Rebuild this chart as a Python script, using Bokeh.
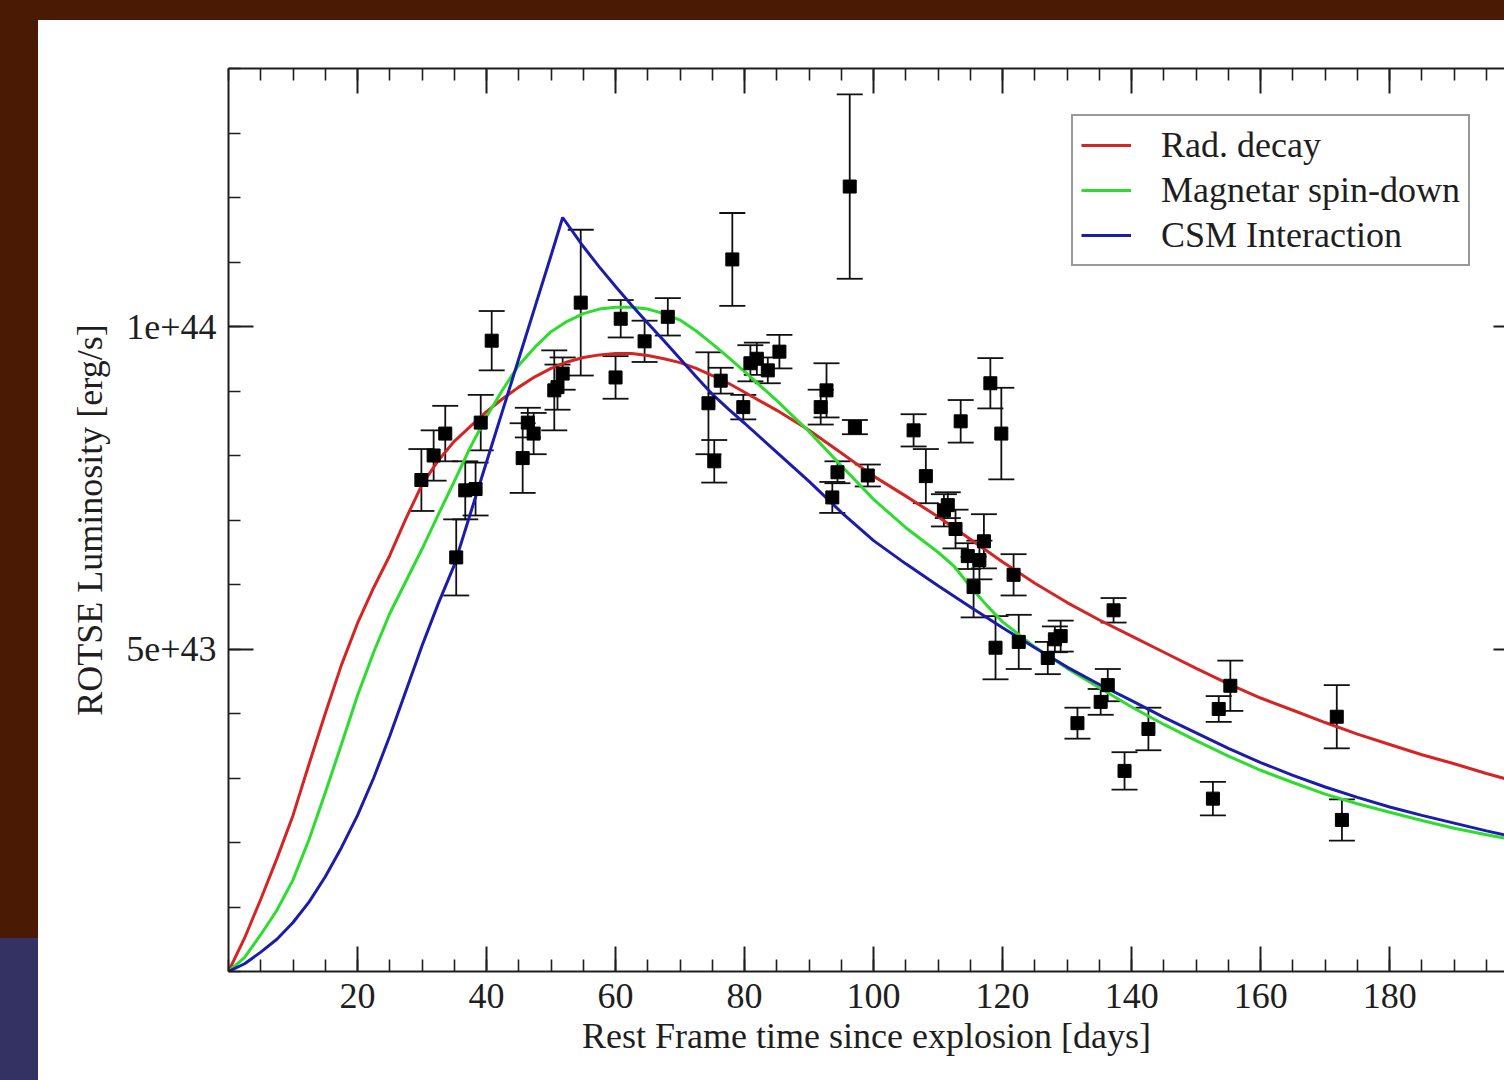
import numpy as np
from bokeh.plotting import figure
from bokeh.layouts import column, row
from bokeh.models import (ColumnDataSource, Whisker, TeeHead, FixedTicker, LinearAxis, Div,
                          CustomJSTickFormatter, Legend, LegendItem, Range1d)
from bokeh.embed import file_html
from bokeh.resources import INLINE

# ---------------- data (luminosity in units of 1e43 erg/s) ----------------
obs_t = [29.9, 31.8, 33.6, 35.3, 36.7, 38.3, 39.1, 40.8, 45.6, 46.4, 47.3, 50.5, 51.0, 51.8,
         54.6, 60.0, 60.8, 64.5, 68.1, 74.4, 75.3, 76.3, 78.1, 79.8, 80.9, 81.9, 83.6, 85.4,
         91.8, 92.7, 93.6, 94.4, 96.3, 97.1, 99.1, 106.2, 108.1, 110.9, 111.5, 112.7, 113.5,
         114.6, 115.5, 116.4, 117.1, 118.1, 119.8, 121.7, 118.9, 122.5, 127.0, 128.1, 129.0,
         131.6, 135.2, 136.3, 137.2, 138.9, 142.6, 152.6, 153.5, 155.3, 171.8, 172.6]
obs_lum = [7.62, 8.00, 8.34, 6.42, 7.46, 7.48, 8.51, 9.78, 7.96, 8.51, 8.34, 9.01, 9.06, 9.27,
           10.37, 9.21, 10.12, 9.77, 10.15, 8.81, 7.91, 9.16, 11.04, 8.75, 9.43, 9.50, 9.32, 9.61,
           8.75, 9.01, 7.35, 7.74, 12.17, 8.44, 7.69, 8.39, 7.68, 7.15, 7.23, 6.86, 8.53,
           6.44, 5.96, 6.38, 6.67, 9.12, 8.34, 6.15, 5.02, 5.11, 4.86, 5.15, 5.20,
           3.85, 4.18, 4.44, 5.60, 3.11, 3.76, 2.68, 4.07, 4.43, 3.95, 2.35]
obs_err = [0.48, 0.39, 0.43, 0.59, 0.45, 0.41, 0.43, 0.46, 0.54, 0.23, 0.32, 0.62, 0.35, 0.25,
           1.13, 0.33, 0.29, 0.32, 0.29, 0.79, 0.33, 0.20, 0.72, 0.19, 0.28, 0.25, 0.20, 0.26,
           0.27, 0.42, 0.24, 0.17, 1.43, 0.11, 0.17, 0.25, 0.42, 0.25, 0.20, 0.30, 0.33,
           0.20, 0.47, 0.30, 0.42, 0.39, 0.71, 0.32, 0.49, 0.42, 0.25, 0.20, 0.24,
           0.24, 0.20, 0.25, 0.19, 0.29, 0.33, 0.26, 0.20, 0.39, 0.49, 0.32]

rad_t = [0, 2.5, 5, 7.5, 10, 12.5, 15, 17.5, 20, 22.5, 25, 27.5, 30, 32.5, 35, 37.5, 40, 42.5,
         45, 47.5, 50, 52.5, 55, 57.5, 60, 62.5, 65, 67.5, 70, 72.5, 75, 77.5, 80, 85, 90, 95,
         100, 105, 110, 115, 120, 125, 130, 135, 140, 145, 150, 155, 160, 165, 170, 175, 180,
         185, 190, 195, 200]
rad_lum = [0, 0.52, 1.12, 1.75, 2.42, 3.22, 4.0, 4.75, 5.4, 5.95, 6.45, 7.02, 7.55, 7.92,
           8.22, 8.45, 8.68, 8.88, 9.06, 9.22, 9.35, 9.45, 9.52, 9.56, 9.58, 9.58, 9.55, 9.5,
           9.44, 9.35, 9.24, 9.12, 8.98, 8.7, 8.39, 8.04, 7.68, 7.37, 7.05, 6.7, 6.35, 6.02,
           5.72, 5.45, 5.2, 4.95, 4.7, 4.46, 4.24, 4.05, 3.86, 3.68, 3.52, 3.36, 3.22, 3.07, 2.93]

mag_t = [0, 2.5, 5, 7.5, 10, 12.5, 15, 17.5, 20, 22.5, 25, 27.5, 30, 32.5, 35, 37.5, 40, 42.5,
         45, 47.5, 50, 52.5, 55, 57.5, 60, 62.5, 65, 67.5, 70, 72.5, 75, 77.5, 80, 85, 90, 95,
         100, 105, 110, 112.5, 115, 117.5, 120, 125, 130, 135, 140, 145, 150, 155, 160, 165,
         170, 175, 180, 185, 190, 195, 200]
mag_lum = [0, 0.22, 0.57, 0.95, 1.42, 2.05, 2.77, 3.52, 4.28, 4.95, 5.55, 6.05, 6.55, 7.08,
           7.6, 8.13, 8.6, 9.02, 9.4, 9.68, 9.92, 10.08, 10.2, 10.27, 10.3, 10.3, 10.27, 10.2,
           10.1, 9.93, 9.73, 9.52, 9.3, 8.85, 8.37, 7.84, 7.32, 6.88, 6.5, 6.28, 5.97, 5.68,
           5.42, 5.03, 4.7, 4.4, 4.1, 3.83, 3.58, 3.34, 3.12, 2.93, 2.75, 2.6, 2.47, 2.34,
           2.22, 2.12, 2.03]

csm_t = [0, 2.5, 5, 7.5, 10, 12.5, 15, 17.5, 20, 22.5, 25, 27.5, 30, 32.5, 35, 37.5, 40, 42.5,
         45, 47.5, 50, 51.8, 55, 57.5, 60, 62.5, 65, 67.5, 70, 72.5, 75, 77.5, 80, 85, 90, 95,
         100, 105, 110, 115, 120, 125, 130, 135, 140, 145, 150, 155, 160, 165, 170, 175, 180,
         185, 190, 195, 200]
csm_lum = [0, 0.12, 0.3, 0.5, 0.76, 1.08, 1.47, 1.92, 2.42, 3.0, 3.65, 4.35, 5.05, 5.7, 6.3,
           7.1, 7.9, 8.7, 9.5, 10.3, 11.1, 11.69, 11.24, 10.92, 10.62, 10.33, 10.05, 9.78, 9.5,
           9.22, 8.95, 8.72, 8.5, 8.05, 7.6, 7.12, 6.68, 6.32, 5.98, 5.65, 5.33, 5.02, 4.72,
           4.45, 4.2, 3.94, 3.7, 3.46, 3.24, 3.04, 2.86, 2.7, 2.55, 2.42, 2.3, 2.18, 2.07]

legend_labels = ["Rad. decay", "Magnetar spin-down", "CSM Interaction"]
x_major = [20, 40, 60, 80, 100, 120, 140, 160, 180]
x_minor = list(range(0, 201, 5))
y_major = [5e43, 1e44]
y_minor = [k * 1e43 for k in range(0, 15)]

UNIT = 1e43
FONT = "Liberation Serif"
INK = "#1e1e1e"
BROWN = "#4a1a04"
NAVY = "#333262"

p = figure(width=1466, height=1060, output_backend="svg", toolbar_location=None,
           x_range=Range1d(0, 197.8), y_range=Range1d(0, 1.4e44),
           min_border_left=190, min_border_right=0, min_border_top=48, min_border_bottom=109,
           x_axis_location=None, y_axis_location=None, margin=0)
p.xgrid.visible = False
p.ygrid.visible = False
p.outline_line_color = None
p.background_fill_color = "white"
p.border_fill_color = "white"


def style_axis(ax):
    ax.axis_line_color = INK
    ax.axis_line_width = 2
    ax.major_tick_line_color = INK
    ax.major_tick_line_width = 2
    ax.minor_tick_line_color = INK
    ax.minor_tick_line_width = 1.6
    ax.major_tick_in = 25
    ax.major_tick_out = 0
    ax.minor_tick_in = 12
    ax.minor_tick_out = 0
    ax.major_label_text_font = FONT
    ax.major_label_text_font_size = "36px"
    ax.major_label_text_color = INK
    ax.axis_label_text_font = FONT
    ax.axis_label_text_font_size = "36px"
    ax.axis_label_text_font_style = "normal"
    ax.axis_label_text_color = INK


xb = LinearAxis(ticker=FixedTicker(ticks=x_major, minor_ticks=x_minor),
                axis_label="Rest Frame time since explosion [days]")
style_axis(xb)
xb.major_label_standoff = 12
xb.axis_label_standoff = 5
p.add_layout(xb, "below")

xt = LinearAxis(ticker=FixedTicker(ticks=x_major, minor_ticks=x_minor),
                formatter=CustomJSTickFormatter(code="return '';"))
style_axis(xt)
p.add_layout(xt, "above")

yl = LinearAxis(ticker=FixedTicker(ticks=y_major, minor_ticks=y_minor),
                formatter=CustomJSTickFormatter(code="return tick.toExponential();"),
                axis_label="ROTSE Luminosity [erg/s]")
style_axis(yl)
yl.major_label_standoff = 12
yl.axis_label_standoff = 13
p.add_layout(yl, "left")

# right-hand axis: only the inner ends of its major ticks reach into the picture
yr = LinearAxis(ticker=FixedTicker(ticks=y_major),
                formatter=CustomJSTickFormatter(code="return '';"))
style_axis(yr)
yr.axis_line_color = None
yr.major_tick_in = 11
yr.minor_tick_in = 0
yr.major_label_standoff = 0
yr.major_label_text_font_size = "1px"
p.add_layout(yr, "right")

# model curves
r1 = p.line(rad_t, [v * UNIT for v in rad_lum], line_color="#d42424", line_width=3)
r2 = p.line(mag_t, [v * UNIT for v in mag_lum], line_color="#2edc2e", line_width=3)
r3 = p.line(csm_t, [v * UNIT for v in csm_lum], line_color="#1c1caa", line_width=3)

# observations
lum = np.array(obs_lum) * UNIT
err = np.array(obs_err) * UNIT
src = ColumnDataSource(dict(t=obs_t, lum=lum, upper=lum + err, lower=lum - err))
p.add_layout(Whisker(source=src, base="t", upper="upper", lower="lower",
                     line_color="#111111", line_width=1.8,
                     upper_head=TeeHead(size=26, line_color="#111111", line_width=1.8),
                     lower_head=TeeHead(size=26, line_color="#111111", line_width=1.8)))
p.scatter("t", "lum", source=src, marker="square", size=13, color="black")

legend = Legend(items=[LegendItem(label=legend_labels[0], renderers=[r1]),
                       LegendItem(label=legend_labels[1], renderers=[r2]),
                       LegendItem(label=legend_labels[2], renderers=[r3])],
                location=(843, 705))
legend.label_text_font = FONT
legend.label_text_font_size = "36px"
legend.label_text_color = INK
legend.border_line_color = "#333333"
legend.border_line_width = 2
legend.background_fill_color = "white"
legend.background_fill_alpha = 1
legend.glyph_width = 50
legend.glyph_height = 36
legend.label_height = 36
legend.label_standoff = 30
legend.padding = 8
legend.spacing = 3
legend.margin = 0
p.add_layout(legend)

# page decoration bands
top_band = Div(text="", width=1504, height=20, margin=0,
               styles={"background-color": BROWN})
left_brown = Div(text="", width=38, height=918, margin=0,
                 styles={"background-color": BROWN})
left_navy = Div(text="", width=38, height=142, margin=0,
                styles={"background-color": NAVY})

page = column(top_band, row(column(left_brown, left_navy, spacing=0), p, spacing=0), spacing=0)

open("out.html", "w").write(file_html(page, INLINE))
